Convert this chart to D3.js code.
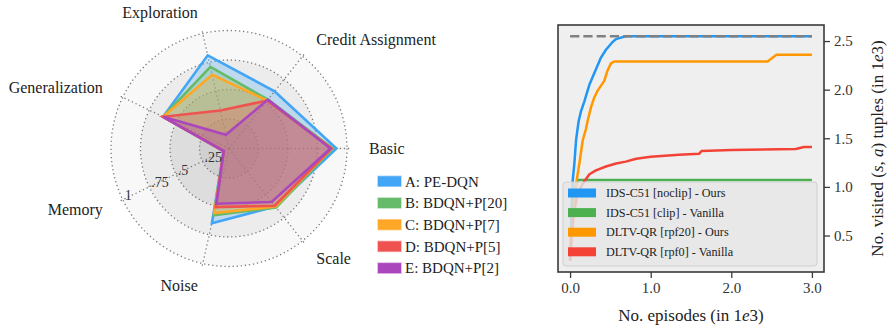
<!DOCTYPE html>
<html>
<head>
<meta charset="utf-8">
<script src="https://cdn.jsdelivr.net/npm/d3@7"></script>
<style>
  html, body { margin: 0; padding: 0; background: #ffffff; }
  svg text { font-family: "Liberation Serif", "Times New Roman", "DejaVu Serif", serif !important; }
</style>
</head>
<body>
<svg id="chart" width="888" height="329"></svg>
<script>
// ---- Radar chart data ----
const radarAxes = ["Basic", "Credit Assignment", "Exploration", "Generalization", "Memory", "Noise", "Scale"];
const radarNames = ["A: PE-DQN", "B: BDQN+P[20]", "C: BDQN+P[7]", "D: BDQN+P[5]", "E: BDQN+P[2]"];
const radarColors = ["#42a5f5", "#66bb6a", "#ffa726", "#ef5350", "#ab47bc"];
const scoresA = [0.91, 0.62, 0.81, 0.62, 0.05, 0.65, 0.63];
const scoresB = [0.88, 0.53, 0.71, 0.62, 0.05, 0.58, 0.64];
const scoresC = [0.87, 0.52, 0.64, 0.62, 0.05, 0.56, 0.63];
const scoresD = [0.87, 0.52, 0.33, 0.62, 0.05, 0.51, 0.62];
const scoresE = [0.86, 0.53, 0.12, 0.62, 0.05, 0.48, 0.58];
const radarSeries = [scoresA, scoresB, scoresC, scoresD, scoresE];
const ringValues = [0.25, 0.5, 0.75, 1];
const ringLabels = [".25", ".5", ".75", "1"];

// ---- Line chart data (x: episodes in 1e3, y: visited tuples in 1e3) ----
const lineNames = ["IDS-C51 [noclip] - Ours", "IDS-C51 [clip] - Vanilla", "DLTV-QR [rpf20] - Ours", "DLTV-QR [rpf0] - Vanilla"];
const lineColors = ["#2196f3", "#4caf50", "#ff9800", "#f44336"];
const blueX = [0, 0.01, 0.02, 0.033, 0.053, 0.074, 0.09, 0.107, 0.136, 0.177, 0.239, 0.28, 0.321, 0.383, 0.445, 0.527, 0.57, 0.61, 0.69, 3.0];
const blueY = [0.24, 0.55, 0.8, 1.07, 1.24, 1.48, 1.58, 1.68, 1.78, 1.88, 2.05, 2.13, 2.21, 2.33, 2.41, 2.49, 2.52, 2.53, 2.55, 2.55];
const greenX = [0, 0.03, 0.06, 0.1, 3.0];
const greenY = [0.24, 0.7, 1.0, 1.07, 1.07];
const orangeX = [0, 0.02, 0.05, 0.082, 0.115, 0.157, 0.198, 0.218, 0.26, 0.30, 0.342, 0.424, 0.466, 0.507, 0.548, 2.45, 2.56, 3.0];
const orangeY = [0.24, 0.5, 0.8, 1.07, 1.24, 1.48, 1.60, 1.68, 1.82, 1.92, 1.99, 2.09, 2.20, 2.27, 2.29, 2.29, 2.36, 2.36];
const redX = [0, 0.02, 0.05, 0.1, 0.17, 0.24, 0.32, 0.445, 0.57, 0.69, 0.82, 1.0, 1.35, 1.6, 1.63, 2.0, 2.8, 2.9, 3.0];
const redY = [0.24, 0.5, 0.75, 0.95, 1.05, 1.13, 1.17, 1.21, 1.24, 1.26, 1.29, 1.31, 1.33, 1.34, 1.37, 1.38, 1.39, 1.41, 1.41];
const maxTuples = 2.55;
const xTicks = [0, 1, 2, 3];
const yTicks = [0.5, 1.0, 1.5, 2.0, 2.5];

const svg = d3.select("#chart");

// ================= Radar =================
const cx = 229, cy = 148.5;
const rScale = d3.scaleLinear().domain([0, 1]).range([0, 118]);
const angle = i => i * 2 * Math.PI / radarAxes.length; // counter-clockwise from +x
const pt = (i, v) => [cx + rScale(v) * Math.cos(angle(i)), cy - rScale(v) * Math.sin(angle(i))];

const radar = svg.append("g");
const bandFill = ["#f8f8f8", "#ececec", "#dddddd", "#d0d0d0"];
[1, 0.75, 0.5, 0.25].forEach((v, k) => {
  radar.append("circle").attr("cx", cx).attr("cy", cy).attr("r", rScale(v)).attr("fill", bandFill[k]);
});
const dotted = { stroke: "#7a7a7a", "stroke-width": 1.3, "stroke-dasharray": "1.3 2.8", fill: "none" };
ringValues.forEach(v => {
  const c = radar.append("circle").attr("cx", cx).attr("cy", cy).attr("r", rScale(v));
  Object.entries(dotted).forEach(([k, val]) => c.attr(k, val));
});
radarAxes.forEach((a, i) => {
  const [x2, y2] = pt(i, 1.035);
  const l = radar.append("line").attr("x1", cx).attr("y1", cy).attr("x2", x2).attr("y2", y2);
  Object.entries(dotted).forEach(([k, val]) => l.attr(k, val));
});

// polygons
const polyLine = d3.line().curve(d3.curveLinearClosed);
radarSeries.forEach((s, k) => {
  const pts = s.map((v, i) => pt(i, v));
  radar.append("path").attr("d", polyLine(pts))
    .attr("fill", radarColors[k]).attr("fill-opacity", 0.27)
    .attr("stroke", radarColors[k]).attr("stroke-width", 2.6)
    .attr("stroke-linejoin", "miter");
});

// radial tick labels along the Memory spoke
ringValues.forEach((v, k) => {
  const [x, y] = pt(4, v);
  radar.append("text").attr("x", x + 2).attr("y", y + 0.5)
    .attr("font-size", 14).attr("fill", "#333").text(ringLabels[k]);
});

// axis labels
radarAxes.forEach((a, i) => {
  const [x, y] = pt(i, 140 / 118);
  const c = Math.cos(angle(i));
  radar.append("text").attr("x", x).attr("y", y).attr("dy", "0.35em")
    .attr("text-anchor", c > 0.01 ? "start" : (c < -0.01 ? "end" : "middle"))
    .attr("font-size", 16).attr("fill", "#222").text(a);
});

// radar legend
const lg = svg.append("g");
radarNames.forEach((n, k) => {
  const yc = 181.3 + k * 21.7;
  lg.append("rect").attr("x", 378).attr("y", yc - 5).attr("width", 23).attr("height", 10)
    .attr("fill", radarColors[k]).attr("stroke", radarColors[k]).attr("stroke-opacity", 0.45).attr("stroke-width", 1.5);
  lg.append("text").attr("x", 405).attr("y", yc).attr("dy", "0.35em")
    .attr("font-size", 15).attr("fill", "#222").text(n);
});

// ================= Line chart =================
const x = d3.scaleLinear().domain([-0.15, 3.15]).range([558, 824]);
const y = d3.scaleLinear().domain([0.125, 2.665]).range([272, 25]);

const plot = svg.append("g");
plot.append("rect").attr("x", 558).attr("y", 25).attr("width", 266).attr("height", 247).attr("fill", "#efefef");

const clipId = "plotclip";
svg.append("defs").append("clipPath").attr("id", clipId)
  .append("rect").attr("x", 558).attr("y", 25).attr("width", 266).attr("height", 247);

const series = [[blueX, blueY], [greenX, greenY], [orangeX, orangeY], [redX, redY]];
const line = d3.line().x(d => x(d[0])).y(d => y(d[1]));
const lines = plot.append("g").attr("clip-path", `url(#${clipId})`);
series.forEach(([xs, ys], k) => {
  lines.append("path").attr("d", line(xs.map((v, i) => [v, ys[i]])))
    .attr("fill", "none").attr("stroke", lineColors[k]).attr("stroke-width", 2.5)
    .attr("stroke-linejoin", "round");
});
lines.append("path").attr("d", line([[0, maxTuples], [3, maxTuples]]))
  .attr("fill", "none").attr("stroke", "#808080").attr("stroke-width", 2.5)
  .attr("stroke-dasharray", "9.25 4");

// legend
const rl = plot.append("g");
rl.append("rect").attr("x", 563).attr("y", 182).attr("width", 254).attr("height", 84).attr("rx", 3)
  .attr("fill", "#e6e6e6").attr("fill-opacity", 0.82).attr("stroke", "#cfcfcf").attr("stroke-width", 1);
lineNames.forEach((n, k) => {
  const yc = 193 + k * 19.6;
  rl.append("line").attr("x1", 568).attr("x2", 596).attr("y1", yc).attr("y2", yc)
    .attr("stroke", lineColors[k]).attr("stroke-width", 9);
  rl.append("text").attr("x", 606).attr("y", yc).attr("dy", "0.35em")
    .attr("font-size", 12.2).attr("fill", "#222").text(n);
});

// frame
plot.append("rect").attr("x", 558).attr("y", 25).attr("width", 266).attr("height", 247)
  .attr("fill", "none").attr("stroke", "#3a3a3a").attr("stroke-width", 1.6);

// axes
const yAxis = svg.append("g").attr("transform", "translate(824,0)")
  .call(d3.axisRight(y).tickValues(yTicks).tickFormat(d3.format(".1f")).tickSize(6).tickPadding(4));
const xAxis = svg.append("g").attr("transform", "translate(0,272)")
  .call(d3.axisBottom(x).tickValues(xTicks).tickFormat(d3.format(".1f")).tickSize(6).tickPadding(4));
[yAxis, xAxis].forEach(g => {
  g.attr("font-family", null).attr("font-size", 15);
  g.select(".domain").remove();
  g.selectAll(".tick line").attr("stroke", "#3a3a3a").attr("stroke-width", 1.3);
  g.selectAll(".tick text").attr("font-size", 15).attr("fill", "#333");
});

// axis titles
const xt = svg.append("text").attr("x", 691).attr("y", 321).attr("text-anchor", "middle")
  .attr("font-size", 17).attr("fill", "#222");
xt.append("tspan").text("No. episodes (in 1");
xt.append("tspan").attr("font-style", "italic").text("e");
xt.append("tspan").text("3)");

const yt = svg.append("text").attr("transform", "translate(883,148.5) rotate(-90)")
  .attr("text-anchor", "middle").attr("font-size", 17).attr("fill", "#222");
yt.append("tspan").text("No. visited (");
yt.append("tspan").attr("font-style", "italic").text("s");
yt.append("tspan").text(", ");
yt.append("tspan").attr("font-style", "italic").text("a");
yt.append("tspan").text(") tuples (in 1");
yt.append("tspan").attr("font-style", "italic").text("e");
yt.append("tspan").text("3)");
</script>
</body>
</html>
